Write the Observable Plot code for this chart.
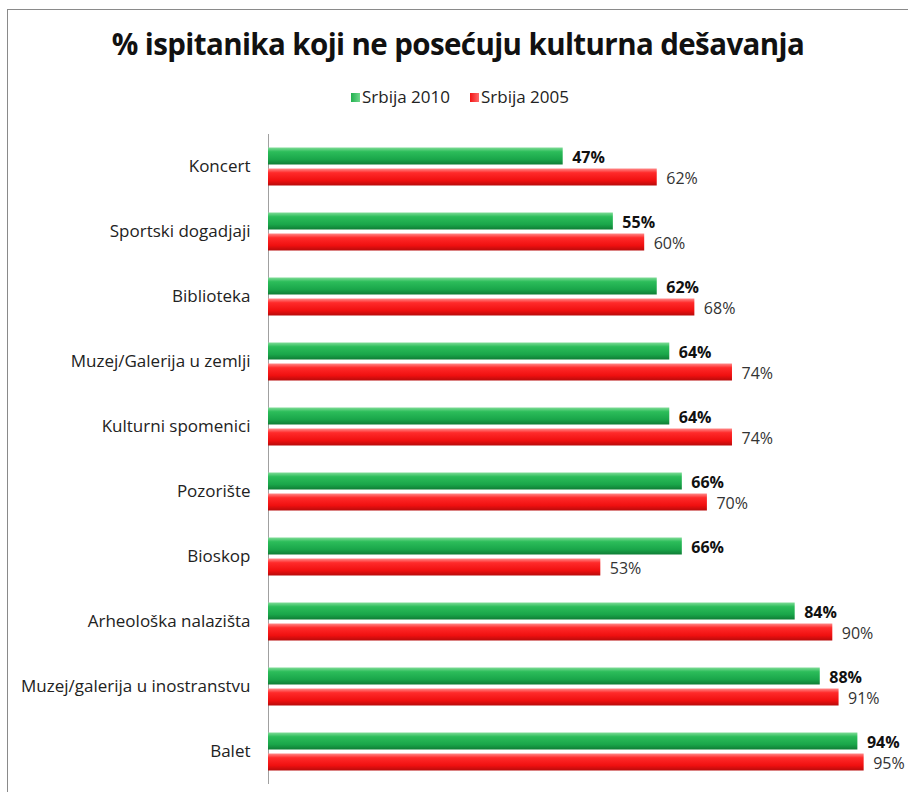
<!DOCTYPE html>
<html>
<head>
<meta charset="utf-8">
<script src="https://cdn.jsdelivr.net/npm/d3@7"></script>
<script src="https://cdn.jsdelivr.net/npm/@observablehq/plot@0.6"></script>
<style>
  html, body { margin: 0; padding: 0; background: #fff; }
  body { width: 908px; height: 792px; position: relative; overflow: hidden; font-family: "Open Sans", sans-serif; color: #222; }
  #frame { position: absolute; left: 7px; top: 9px; right: -2px; bottom: -2px; border: 1px solid #8a8a8a; }
  #title { position: absolute; top: 23px; left: 4px; width: 908px; text-align: center; font-family: "Open Sans", sans-serif; font-weight: bold; font-size: 29.5px; color: #111; letter-spacing: -0.6px; }
  #legend { position: absolute; top: 85px; left: 6px; width: 908px; text-align: center; font-size: 17px; color: #222; }
  #legend span.item { margin: 0 10px; }
  #legend i { display: inline-block; width: 9px; height: 9px; margin-right: 2px; vertical-align: 1px; }
  #chart { position: absolute; left: 0; top: 120px; line-height: 0; }
  #chart svg { overflow: visible; display: block; }
</style>
</head>
<body>
<svg width="0" height="0" style="position:absolute">
  <defs>
    <linearGradient id="g2010" x1="0" y1="0" x2="0" y2="1">
      <stop offset="0" stop-color="#7fdc97"/>
      <stop offset="0.25" stop-color="#2cbd5a"/>
      <stop offset="0.7" stop-color="#1aa64a"/>
      <stop offset="1" stop-color="#0f7d35"/>
    </linearGradient>
    <linearGradient id="g2005" x1="0" y1="0" x2="0" y2="1">
      <stop offset="0" stop-color="#ff8a8a"/>
      <stop offset="0.25" stop-color="#ff2a2a"/>
      <stop offset="0.7" stop-color="#f01010"/>
      <stop offset="1" stop-color="#b80b0b"/>
    </linearGradient>
  </defs>
</svg>
<div id="frame"></div>
<div id="title">% ispitanika koji ne posećuju kulturna dešavanja</div>
<div id="legend"></div>
<div id="chart"></div>
<script>
const categories = ["Koncert", "Sportski dogadjaji", "Biblioteka", "Muzej/Galerija u zemlji", "Kulturni spomenici", "Pozorište", "Bioskop", "Arheološka nalazišta", "Muzej/galerija u inostranstvu", "Balet"];
const series = ["Srbija 2010", "Srbija 2005"];
const values2010 = [47, 55, 62, 64, 64, 66, 66, 84, 88, 94];
const values2005 = [62, 60, 68, 74, 74, 70, 53, 90, 91, 95];
const seriesColors = ["#22b04f", "#f21414"];

const rows = [];
categories.forEach((c, i) => {
  rows.push({category: c, series: series[0], value: values2010[i]});
  rows.push({category: c, series: series[1], value: values2005[i]});
});

const legend = document.getElementById("legend");
legend.innerHTML = series.map((s, i) => `<span class="item"><i style="background:linear-gradient(90deg, ${seriesColors[i]}, ${i ? '#ff6a6a' : '#6fd88c'})"></i>${s}</span>`).join("");

const chart = Plot.plot({
  width: 908,
  height: 672,
  marginLeft: 268,
  marginRight: 13,
  marginTop: 13.5,
  marginBottom: 8.5,
  style: {fontFamily: "'Open Sans', sans-serif", fontSize: "17px", color: "#222", background: "transparent"},
  x: {domain: [0, 100], axis: null},
  y: {domain: series, axis: null, paddingInner: 0.19, paddingOuter: 0.635},
  fy: {domain: categories, padding: 0, label: null, tickSize: 0, tickPadding: 18},
  color: {domain: series, range: ["url(#g2010)", "url(#g2005)"]},
  facet: {data: rows, y: "category", label: null},
  marks: [
    Plot.ruleX([0], {stroke: "#a0a0a0", strokeWidth: 1}),
    Plot.barX(rows, {x: "value", y: "series", fill: "series"}),
    Plot.text(rows, {x: "value", y: "series", text: d => d.series === series[0] ? d.value + "%" : null, textAnchor: "start", dx: 9, dy: 1, fontWeight: "bold", fill: "#111", fontSize: 16}),
    Plot.text(rows, {x: "value", y: "series", text: d => d.series === series[1] ? d.value + "%" : null, textAnchor: "start", dx: 9, dy: 1, fill: "#333", fontSize: 16})
  ]
});
document.getElementById("chart").appendChild(chart);
</script>
</body>
</html>
